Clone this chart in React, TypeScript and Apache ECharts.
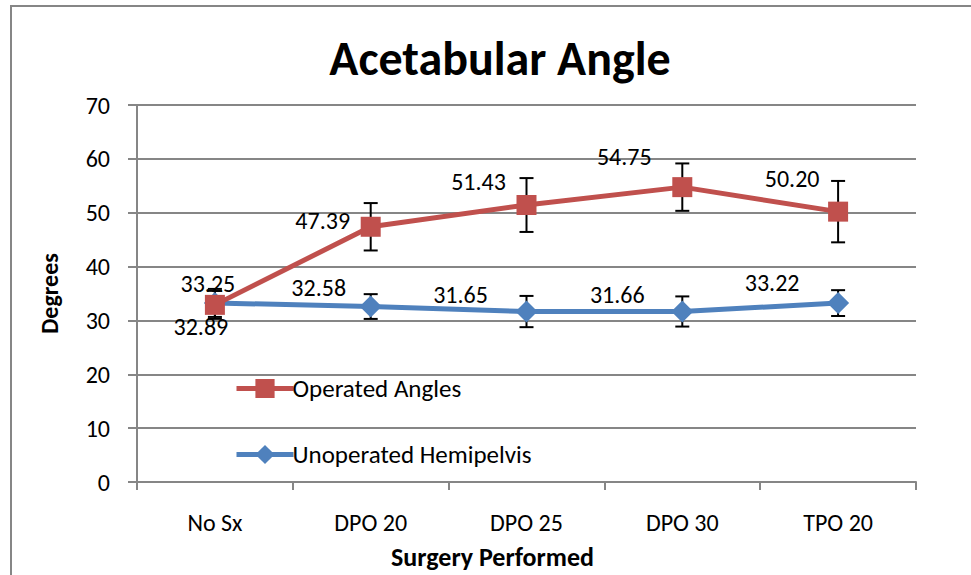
import React, { useEffect, useRef } from "react";
import * as echarts from "echarts";

const categories = ["No Sx", "DPO 20", "DPO 25", "DPO 30", "TPO 20"];
const operated = [32.89, 47.39, 51.43, 54.75, 50.2];
const operatedErr = [2.6, 4.4, 5.0, 4.4, 5.7];
const unoperated = [33.25, 32.58, 31.65, 31.66, 33.22];
const unoperatedErr = [2.6, 2.3, 2.9, 2.8, 2.4];
const yTicks = { min: 0, max: 70, interval: 10 };

// label offsets (layout only)
const opOffsets = [[-14, 22], [-48, -6], [-48, -24], [-58, -31], [-46, -33]];
const unOffsets = [[-7, -19], [-52, -19], [-66, -17], [-65, -17], [-66, -21]];

const FONT = "Carlito, Lato, 'Open Sans', sans-serif";
const FS = 24;
const RED = "#C0504D";
const BLUE = "#4F81BD";
const GRAY = "#868686";

function errorSeries(vals: number[], errs: number[]) {
  return {
    type: "custom",
    silent: true,
    z: 1,
    data: vals.map((v, i) => [i, v - errs[i], v + errs[i]]),
    renderItem: (params: any, api: any) => {
      const x = api.value(0);
      const lo = api.coord([x, api.value(1)]);
      const hi = api.coord([x, api.value(2)]);
      const w = 7;
      const style = { stroke: "#000", lineWidth: 2 };
      return {
        type: "group",
        children: [
          { type: "line", shape: { x1: lo[0], y1: lo[1], x2: hi[0], y2: hi[1] }, style },
          { type: "line", shape: { x1: lo[0] - w, y1: lo[1], x2: lo[0] + w, y2: lo[1] }, style },
          { type: "line", shape: { x1: hi[0] - w, y1: hi[1], x2: hi[0] + w, y2: hi[1] }, style },
        ],
      };
    },
  };
}

export default function App() {
  const ref = useRef<HTMLDivElement>(null);
  useEffect(() => {
    document.body.style.margin = "0";
    const chart = echarts.init(ref.current!, undefined, { renderer: "svg" });
    const labelFor = (vals: number[], offs: number[][]) =>
      vals.map((v, i) => ({
        value: v,
        label: {
          show: true,
          position: "inside",
          offset: offs[i],
          formatter: (p: any) => Number(p.value).toFixed(2),
          fontSize: FS,
          fontFamily: FONT,
          color: "#000",
        },
      }));
    chart.setOption({
      animation: false,
      backgroundColor: "#fff",
      textStyle: { fontFamily: FONT },
      title: {
        text: "Acetabular Angle",
        left: 495,
        textAlign: "center",
        top: 29,
        textStyle: { fontSize: 48, fontWeight: "bold", color: "#000", fontFamily: FONT },
      },
      graphic: [
        {
          type: "rect",
          shape: { x: 11, y: 6, width: 1000, height: 620 },
          style: { fill: "none", stroke: GRAY, lineWidth: 2 },
          silent: true,
        },
      ],
      legend: {
        orient: "vertical",
        left: 229,
        top: 371,
        itemGap: 41,
        itemWidth: 57,
        itemHeight: 24,
        lineStyle: { width: 5 },
        data: ["Operated Angles", "Unoperated Hemipelvis"],
        textStyle: { fontSize: 25, color: "#000", fontFamily: FONT, padding: [0, 0, 0, -6] },
      },
      grid: { left: 137, right: 55, top: 105, bottom: 91 },
      xAxis: {
        type: "category",
        data: categories,
        boundaryGap: true,
        axisLine: { lineStyle: { color: GRAY, width: 2 } },
        axisTick: { show: true, length: 8, lineStyle: { color: GRAY, width: 2 } },
        axisLabel: { fontSize: FS, color: "#000", margin: 28, fontFamily: FONT },
        name: "Surgery Performed",
        nameLocation: "middle",
        nameGap: 62,
        nameTextStyle: { fontSize: 26, fontWeight: "bold", color: "#000", fontFamily: FONT, padding: [0, 68, 0, 0] },
      },
      yAxis: {
        type: "value",
        min: yTicks.min,
        max: yTicks.max,
        interval: yTicks.interval,
        axisLine: { show: true, lineStyle: { color: GRAY, width: 2 } },
        axisTick: { show: true, length: 9, lineStyle: { color: GRAY, width: 2 } },
        axisLabel: { fontSize: FS, color: "#000", margin: 27, fontFamily: FONT },
        splitLine: { lineStyle: { color: GRAY, width: 2 } },
        name: "Degrees",
        nameLocation: "middle",
        nameGap: 76,
        nameTextStyle: { fontSize: FS, fontWeight: "bold", color: "#000", fontFamily: FONT },
      },
      series: [
        errorSeries(operated, operatedErr),
        errorSeries(unoperated, unoperatedErr),
        {
          name: "Unoperated Hemipelvis",
          type: "line",
          z: 3,
          data: labelFor(unoperated, unOffsets),
          symbol: "diamond",
          symbolSize: 22,
          itemStyle: { color: BLUE },
          lineStyle: { color: BLUE, width: 5 },
        },
        {
          name: "Operated Angles",
          type: "line",
          z: 4,
          data: labelFor(operated, opOffsets),
          symbol: "rect",
          symbolSize: 20,
          itemStyle: { color: RED },
          lineStyle: { color: RED, width: 5 },
        },
      ],
    });
    return () => chart.dispose();
  }, []);
  return <div ref={ref} style={{ width: 971, height: 575 }} />;
}
